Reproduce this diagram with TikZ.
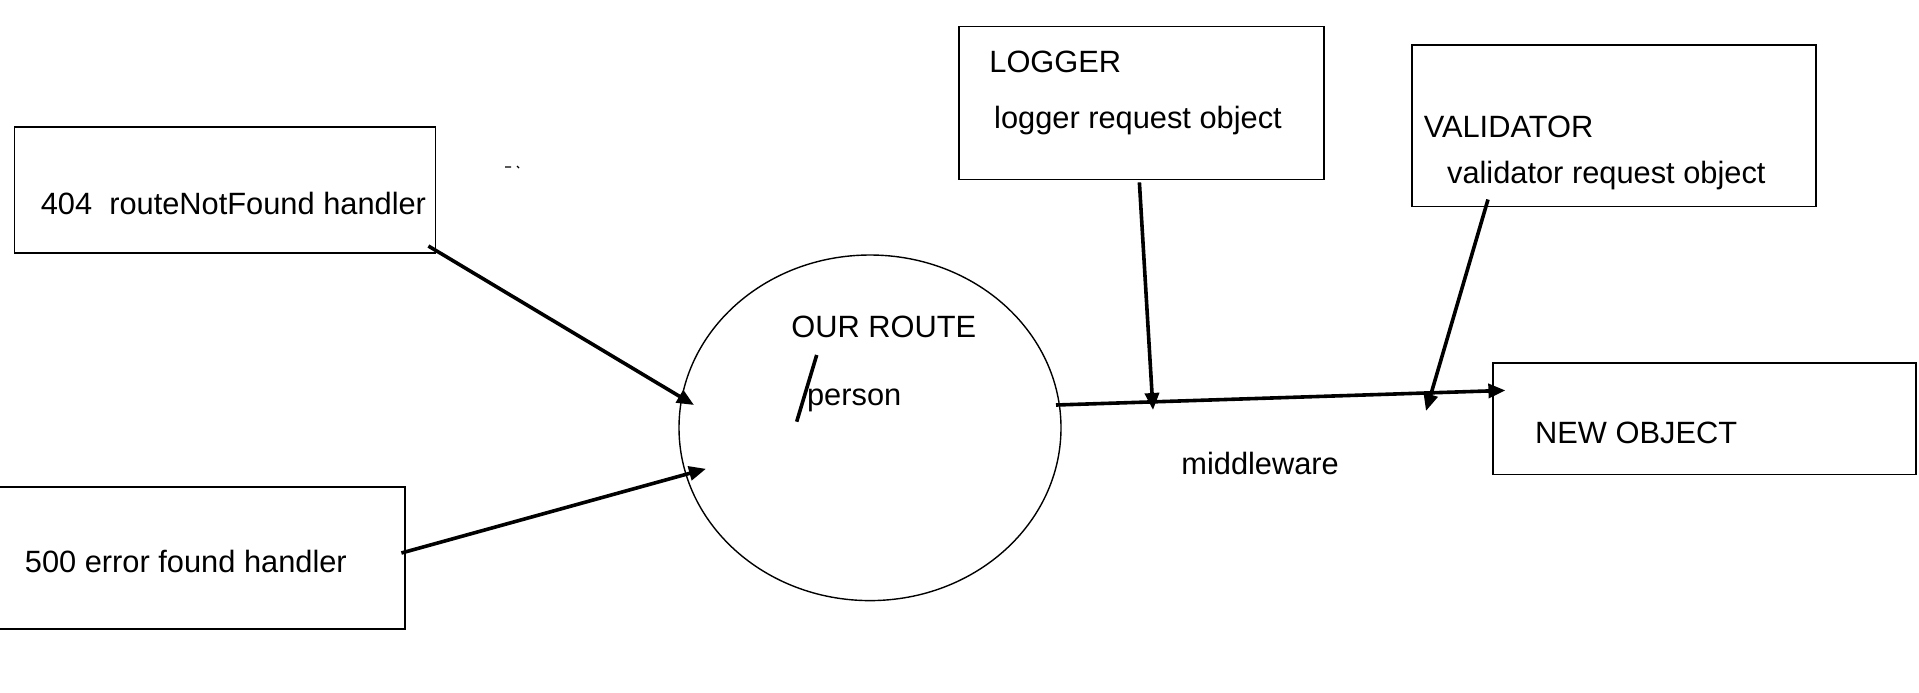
\documentclass[tikz,border=0pt]{standalone}
\usepackage{fontspec}
\setmainfont{Liberation Sans}
\usetikzlibrary{arrows.meta,shapes.geometric}
\begin{document}
\begin{tikzpicture}[x=0.5pt,y=-0.5pt,
  box/.style={draw, line width=0.8pt, inner sep=0pt, anchor=north west},
  lbl/.style={anchor=west, inner sep=0pt, text height=11pt, text depth=0pt, font=\fontsize{15.4}{18}\selectfont},
  conn/.style={line width=1.8pt, -{Triangle[length=8.5pt,width=7pt]}},
]
\useasboundingbox (0,0) rectangle (1919,692);
% boxes
\node[box, minimum width=210.5pt, minimum height=63pt] (b404) at (13.5,126) {};
\node[box, minimum width=203.5pt, minimum height=71pt] (b500) at (-3,486) {};
\node[box, minimum width=182.5pt, minimum height=76.5pt] (logger) at (958,25.7) {};
\node[box, minimum width=202pt, minimum height=80.8pt] (valid) at (1411,44) {};
\node[box, minimum width=211.7pt, minimum height=55.7pt] (newobj) at (1492,362.3) {};
\node[draw, ellipse, line width=0.7pt, inner sep=0pt, minimum width=191pt, minimum height=172.8pt] (route) at (870,427.8) {};
% labels
\node[lbl] (t404) at (40.4,203.2) {404\ \ routeNotFound handler};
\node[lbl] (t500) at (24.5,561.8) {500 error found handler};
\node[lbl] (tour) at (791,326.7) {OUR ROUTE};
\node[lbl] (tperson) at (806.7,394.7) {person};
\node[lbl] (tlog) at (989,61) {LOGGER};
\node[lbl] (tlogreq) at (993.8,117.5) {logger request object};
\node[lbl] (tval) at (1423.4,126) {VALIDATOR};
\node[lbl] (tvalreq) at (1446.7,172.6) {validator request object};
\node[lbl] (tnew) at (1534.8,432) {NEW OBJECT};
\node[lbl] (tmid) at (1181,463.9) {middleware};
% stray marks
\draw[line width=0.6pt] (505,167) -- (511,167) (517,166) -- (519,168);
% slash in route
\coordinate (sl1) at (816.7,355);
\coordinate (sl2) at (796.7,421.7);
\draw[line width=1.8pt] (sl1) -- (sl2);
% connector end points
\coordinate (s404) at (428.4,246);
\coordinate (e404) at (694,405);
\coordinate (s500) at (401.4,553);
\coordinate (e500) at (706,468.8);
\coordinate (slog) at (1139.4,182.4);
\coordinate (elog) at (1153,410);
\coordinate (sval) at (1488,199.5);
\coordinate (eval) at (1426,411);
\coordinate (smain) at (1056,405);
\coordinate (emain) at (1505.4,390.4);
\draw[conn] (s404) -- (e404);
\draw[conn] (s500) -- (e500);
\draw[conn] (smain) -- (emain);
\draw[conn] (slog) -- (elog);
\draw[conn] (sval) -- (eval);
\end{tikzpicture}
\end{document}
